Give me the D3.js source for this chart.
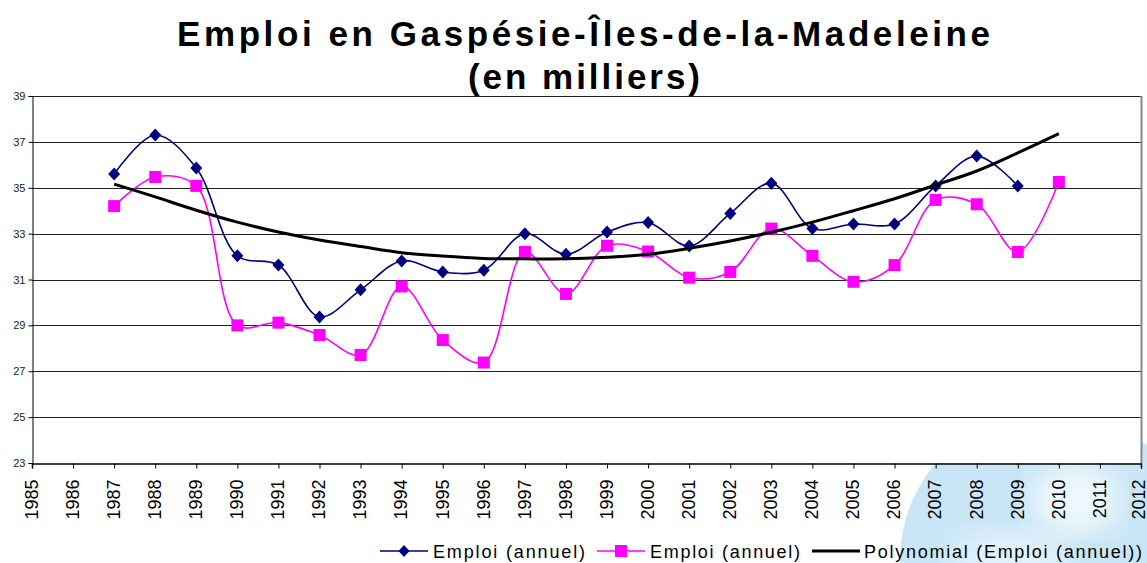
<!DOCTYPE html>
<html><head><meta charset="utf-8">
<script src="https://cdn.jsdelivr.net/npm/d3@7"></script>
<style>body{margin:0;background:#fff}svg{display:block}</style>
</head><body>
<svg id="c" width="1147" height="563"></svg>
<script>
const years = [1987,1988,1989,1990,1991,1992,1993,1994,1995,1996,1997,1998,1999,2000,2001,2002,2003,2004,2005,2006,2007,2008,2009,2010];
const emploiBlue = [35.6,37.3,35.86,32.03,31.63,29.37,30.55,31.81,31.33,31.4,33.0,32.1,33.07,33.48,32.46,33.88,35.2,33.22,33.42,33.42,35.08,36.38,35.08,null];
const emploiPink = [34.2,35.47,35.08,29.0,29.12,28.58,27.71,30.7,28.36,27.38,32.2,30.37,32.47,32.22,31.08,31.33,33.22,32.03,30.9,31.63,34.47,34.28,32.2,35.25];
const trend = [35.16,34.6,34.02,33.5,33.07,32.72,32.44,32.17,32.02,31.92,31.9,31.9,31.97,32.1,32.36,32.68,33.06,33.5,34.0,34.52,35.12,35.73,36.52,37.36];
const xTicks = d3.range(1985, 2013);
const yTicks = [23,25,27,29,31,33,35,37,39];
const titleLines = ["Emploi en Gaspésie-Îles-de-la-Madeleine", "(en milliers)"];
const legendLabels = ["Emploi (annuel)", "Emploi (annuel)", "Polynomial (Emploi (annuel))"];

const svg = d3.select("#c");
const F = "'Liberation Sans', Arial, sans-serif";
const L = 32, R = 1141, T = 96, B = 463;
const x = d3.scaleLinear().domain([1985, 2012]).range([L, R]);
const y = d3.scaleLinear().domain([23, 39]).range([B, T]);

// watermark
const defs = svg.append("defs");
defs.append("filter").attr("id","blur").append("feGaussianBlur").attr("stdDeviation",14);
svg.append("circle").attr("cx",1050).attr("cy",560).attr("r",150).attr("fill","#c9e6f6");
svg.append("ellipse").attr("cx",1075).attr("cy",500).attr("rx",45).attr("ry",35).attr("fill","#eef8fd").attr("filter","url(#blur)");
svg.append("ellipse").attr("cx",1010).attr("cy",560).attr("rx",60).attr("ry",30).attr("fill","#e2f2fb").attr("filter","url(#blur)");

// plot area
svg.append("rect").attr("x",L).attr("y",T).attr("width",R-L).attr("height",B-T).attr("fill","#fff");

// gridlines
svg.append("g").selectAll("line").data(yTicks.filter(v=>v>23)).join("line")
  .attr("x1",L).attr("x2",R).attr("y1",d=>Math.round(y(d))+0.5).attr("y2",d=>Math.round(y(d))+0.5)
  .attr("stroke","#222").attr("stroke-width",1);
// right border
svg.append("line").attr("x1",R+0.5).attr("x2",R+0.5).attr("y1",T).attr("y2",B).attr("stroke","#888").attr("stroke-width",2);

// axes
const yAxis = d3.axisLeft(y).tickValues(yTicks).tickSize(4).tickPadding(3).tickFormat(d3.format("d"));
const gy = svg.append("g").attr("transform",`translate(${L+0.5},0)`).call(yAxis);
gy.selectAll("text").attr("font-family",F).attr("font-size",11).attr("fill","#222");
gy.selectAll("line,path").attr("stroke","#000");

const xAxis = d3.axisBottom(x).tickValues(xTicks).tickSize(5).tickFormat(d3.format("d"));
const gx = svg.append("g").attr("transform",`translate(0,${B+0.5})`).call(xAxis);
gx.select(".domain").attr("stroke","#000").attr("stroke-width",1.5);
gx.selectAll("line").attr("stroke","#000");
gx.selectAll("text").attr("font-family",F).attr("font-size",18).attr("fill","#000")
  .attr("transform","rotate(-90)").attr("text-anchor","end").attr("x",-16).attr("y",d=>d===2012?-3:-1).attr("dy","0.35em");

// lines
const line = d3.line().defined(d=>d[1]!=null).x(d=>x(d[0])).y(d=>y(d[1])).curve(d3.curveCatmullRom.alpha(0.5));
const blueData = years.map((yr,i)=>[yr,emploiBlue[i]]).filter(d=>d[1]!=null);
const pinkData = years.map((yr,i)=>[yr,emploiPink[i]]);
const trendData = years.map((yr,i)=>[yr,trend[i]]);

svg.append("path").datum(pinkData).attr("d",line).attr("fill","none").attr("stroke","#ff00ff").attr("stroke-width",1.6);
svg.append("path").datum(blueData).attr("d",line).attr("fill","none").attr("stroke","#000080").attr("stroke-width",1.6);

// markers
svg.append("g").selectAll("rect").data(pinkData).join("rect")
  .attr("x",d=>x(d[0])-6).attr("y",d=>y(d[1])-6).attr("width",12).attr("height",12).attr("fill","#ff00ff");
svg.append("g").selectAll("path").data(blueData).join("path")
  .attr("d",d=>{const cx=x(d[0]),cy=y(d[1]);return `M${cx},${cy-6.5}L${cx+6},${cy}L${cx},${cy+6.5}L${cx-6},${cy}Z`;})
  .attr("fill","#000080");

svg.append("path").datum(trendData).attr("d",d3.line().x(d=>x(d[0])).y(d=>y(d[1])).curve(d3.curveCatmullRom)).attr("fill","none").attr("stroke","#000").attr("stroke-width",3);

// title
svg.append("text").attr("x",177).attr("y",46).attr("font-family",F).attr("font-weight","bold").attr("font-size",35).attr("fill","#000")
  .attr("textLength",813).attr("lengthAdjust","spacing").text(titleLines[0]);
svg.append("text").attr("x",468).attr("y",89).attr("font-family",F).attr("font-weight","bold").attr("font-size",35).attr("fill","#000")
  .attr("textLength",232).attr("lengthAdjust","spacing").text(titleLines[1]);

// legend
const lg = svg.append("g");
const ly = 551;
const items = [
  {x0:380, x1:428, color:"#000080", mk:"d", tx:433, tl:152, label:legendLabels[0]},
  {x0:597, x1:645, color:"#ff00ff", mk:"s", tx:650, tl:150, label:legendLabels[1]},
  {x0:812, x1:860, color:"#000", mk:null, tx:864, tl:278, label:legendLabels[2]}
];
items.forEach(it=>{
  lg.append("line").attr("x1",it.x0).attr("x2",it.x1).attr("y1",ly).attr("y2",ly).attr("stroke",it.color).attr("stroke-width",it.mk?1.6:3);
  const cx=(it.x0+it.x1)/2;
  if(it.mk==="d") lg.append("path").attr("d",`M${cx},${ly-6}L${cx+5.5},${ly}L${cx},${ly+6}L${cx-5.5},${ly}Z`).attr("fill",it.color);
  if(it.mk==="s") lg.append("rect").attr("x",cx-6).attr("y",ly-6).attr("width",12).attr("height",12).attr("fill",it.color);
  lg.append("text").attr("x",it.tx).attr("y",ly+6.5).attr("font-family",F).attr("font-size",18).attr("fill","#000")
    .attr("textLength",it.tl).attr("lengthAdjust","spacing").text(it.label);
});
</script>
</body></html>
